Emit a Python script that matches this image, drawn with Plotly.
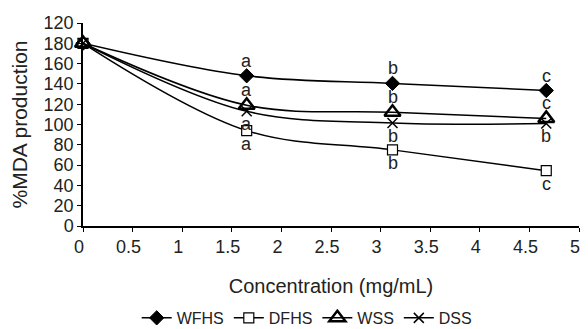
import plotly.graph_objects as go

conc = [0, 1.65, 3.12, 4.67]
wfhs = [180, 148, 140.5, 133.5]
dfhs = [180, 94, 75, 54.5]
wss = [180, 119, 112, 106]
dss = [180, 113, 101.5, 101]

letters = {
    "WFHS": ["", "a", "b", "c"],
    "DFHS": ["", "a", "b", "c"],
    "WSS": ["", "a", "b", "c"],
    "DSS": ["", "a", "b", "b"],
}
above = {"WFHS": True, "DFHS": False, "WSS": True, "DSS": False}

y_tickvals = [0, 20, 40, 60, 80, 100, 120, 140, 160, 180, 200]
y_ticktext = ["0", "20", "40", "60", "80", "100", "120", "140", "160", "180", "120"]
x_tickvals = [0, 0.5, 1, 1.5, 2, 2.5, 3, 3.5, 4, 4.5, 5]
x_ticktext = ["0", "0.5", "1", "1.5", "2", "2.5", "3", "3.5", "4", "4.5", "5"]

FONT = "Liberation Sans, Arial, sans-serif"
TXT = "#222"

series = [
    ("WFHS", wfhs, dict(symbol="diamond", size=11, color="black", line=dict(color="black", width=1))),
    ("DFHS", dfhs, dict(symbol="square", size=10, color="white", line=dict(color="black", width=1.2))),
    ("WSS", wss, dict(symbol="triangle-up-open", size=14, color="black", line=dict(color="black", width=2.5))),
    ("DSS", dss, dict(symbol="x-thin", size=10, color="black", line=dict(color="black", width=1.5))),
]

fig = go.Figure()
for name, vals, mk in series:
    fig.add_trace(go.Scatter(
        x=conc, y=vals, name=name, mode="lines+markers",
        line=dict(color="black", width=1.5, shape="spline", smoothing=1),
        marker=mk, cliponaxis=False,
    ))

annotations = []
for name, vals, _ in series:
    for xi, yi, lt in zip(conc, vals, letters[name]):
        if not lt:
            continue
        annotations.append(dict(
            x=xi, y=yi, text=lt, showarrow=False, xref="x", yref="y",
            yshift=15 if above[name] else -13,
            font=dict(family=FONT, size=18, color=TXT),
        ))

fig.update_layout(
    width=588, height=329,
    margin=dict(l=75, r=17, t=15, b=111, autoexpand=False),
    paper_bgcolor="white", plot_bgcolor="white",
    font=dict(family=FONT, color=TXT),
    showlegend=True,
    legend=dict(orientation="h", x=0.452, xanchor="center", y=-0.453, yanchor="middle",
                font=dict(family=FONT, size=16, color=TXT), itemwidth=30,
                tracegroupgap=0),
    annotations=annotations,
)
fig.update_xaxes(
    range=[0, 5], tickvals=x_tickvals, ticktext=x_ticktext, automargin=False,
    showline=True, linecolor="black", linewidth=1.5,
    ticks="outside", ticklen=4, tickcolor="black", tickwidth=1,
    showgrid=False, zeroline=False, ticklabelshift=-4,
    tickfont=dict(family=FONT, size=18, color=TXT),
    title=dict(text="Concentration (mg/mL)", font=dict(family=FONT, size=20, color=TXT), standoff=23),
)
fig.update_yaxes(
    range=[0, 200], tickvals=y_tickvals, ticktext=y_ticktext, automargin=False,
    showline=True, linecolor="black", linewidth=1.5,
    ticks="outside", ticklen=4, tickcolor="black", tickwidth=1,
    showgrid=False, zeroline=False,
    tickfont=dict(family=FONT, size=18, color=TXT),
    title=dict(text="%MDA production", font=dict(family=FONT, size=21, color=TXT), standoff=16),
)

fig.write_html("out.html", config={"displayModeBar": False})
